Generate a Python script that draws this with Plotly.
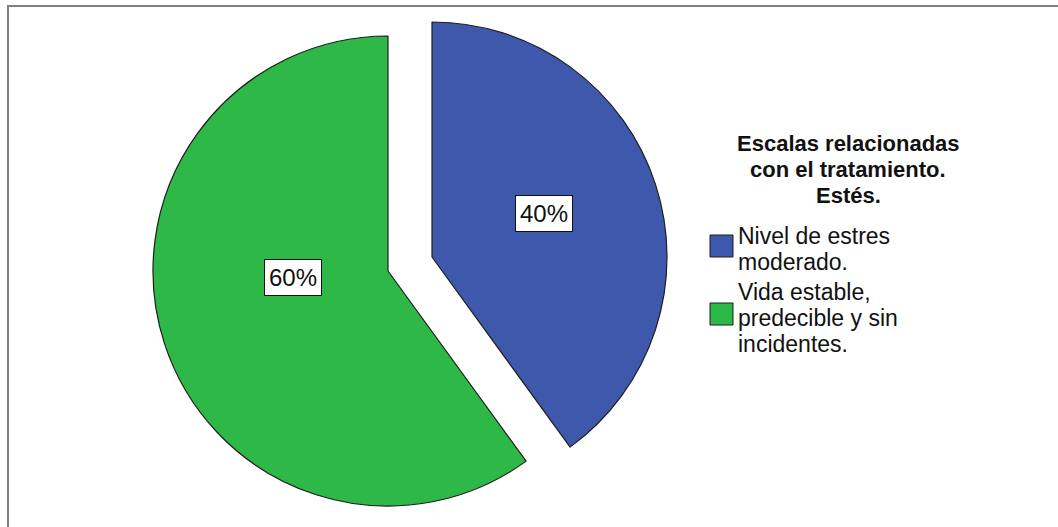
import plotly.graph_objects as go

# Data
categories = ["Nivel de estres moderado.", "Vida estable, predecible y sin incidentes."]
values = [40, 60]
colors = ["#3E58AC", "#2EB848"]
legend_title = ["Escalas relacionadas", "con el tratamiento.", "Estés."]
legend_lines = [["Nivel de estres", "moderado."], ["Vida estable,", "predecible y sin", "incidentes."]]

W, H = 1058, 527
FONT = "Liberation Sans, Arial, sans-serif"
EDGE = "#1E1E1E"
CLEAR = "rgba(0,0,0,0)"


def px_x(x):
    return x / W


def px_y(y):
    return 1 - y / H


total = sum(values)
fig = go.Figure()

# Each slice is its own pie trace, so the exploded slice can sit on an offset centre
centres = [(432, 257), (388, 271)]
radius = 235
for i, (cx, cy) in enumerate(centres):
    fill = [colors[j] if j == i else CLEAR for j in range(len(values))]
    line = [EDGE if j == i else CLEAR for j in range(len(values))]
    fig.add_trace(go.Pie(
        labels=categories, values=values, sort=False, direction="clockwise", rotation=0,
        marker=dict(colors=fill, line=dict(color=line, width=1.2)),
        textinfo="none", hoverinfo="skip", showlegend=False,
        domain=dict(x=[px_x(cx - radius), px_x(cx + radius)],
                    y=[px_y(cy + radius), px_y(cy - radius)]),
    ))

annotations = []
# Percentage labels
label_pos = [(544, 214), (293, 277)]
for v, (lx, ly) in zip(values, label_pos):
    annotations.append(dict(
        x=px_x(lx), y=px_y(ly), xref="paper", yref="paper", showarrow=False,
        text=f"{round(100 * v / total)}%", font=dict(family=FONT, size=24, color="#111"),
        bgcolor="white", bordercolor="#111", borderwidth=1, borderpad=4,
        xanchor="center", yanchor="middle",
    ))

# Legend title
title_base = [151, 176, 202]
for t, b in zip(legend_title, title_base):
    annotations.append(dict(
        x=px_x(848), y=px_y(b - 7), xref="paper", yref="paper", showarrow=False,
        text=f"<b>{t}</b>", font=dict(family=FONT, size=22, color="#111"),
        xanchor="center", yanchor="middle",
    ))

# Legend entries
entry_base = [[244, 270], [300, 326, 352]]
swatch_y = [(235, 257), (303, 325)]
shapes = []
for k, lines in enumerate(legend_lines):
    for t, b in zip(lines, entry_base[k]):
        annotations.append(dict(
            x=px_x(736), y=px_y(b - 8), xref="paper", yref="paper", showarrow=False,
            text=t, font=dict(family=FONT, size=23, color="#111"),
            xanchor="left", yanchor="middle",
        ))
    y0, y1 = swatch_y[k]
    shapes.append(dict(type="rect", xref="paper", yref="paper",
                       x0=px_x(710), x1=px_x(733), y0=px_y(y1), y1=px_y(y0),
                       fillcolor=colors[k], line=dict(color=EDGE, width=1)))

# Outer frame
shapes.append(dict(type="rect", xref="paper", yref="paper",
                   x0=px_x(8), x1=1.05, y0=-0.05, y1=px_y(6),
                   fillcolor=CLEAR, line=dict(color="#808080", width=2)))

fig.update_layout(
    width=W, height=H, margin=dict(l=0, r=0, t=0, b=0),
    paper_bgcolor="white", plot_bgcolor="white",
    annotations=annotations, shapes=shapes, showlegend=False,
)

fig.write_html("out.html")
